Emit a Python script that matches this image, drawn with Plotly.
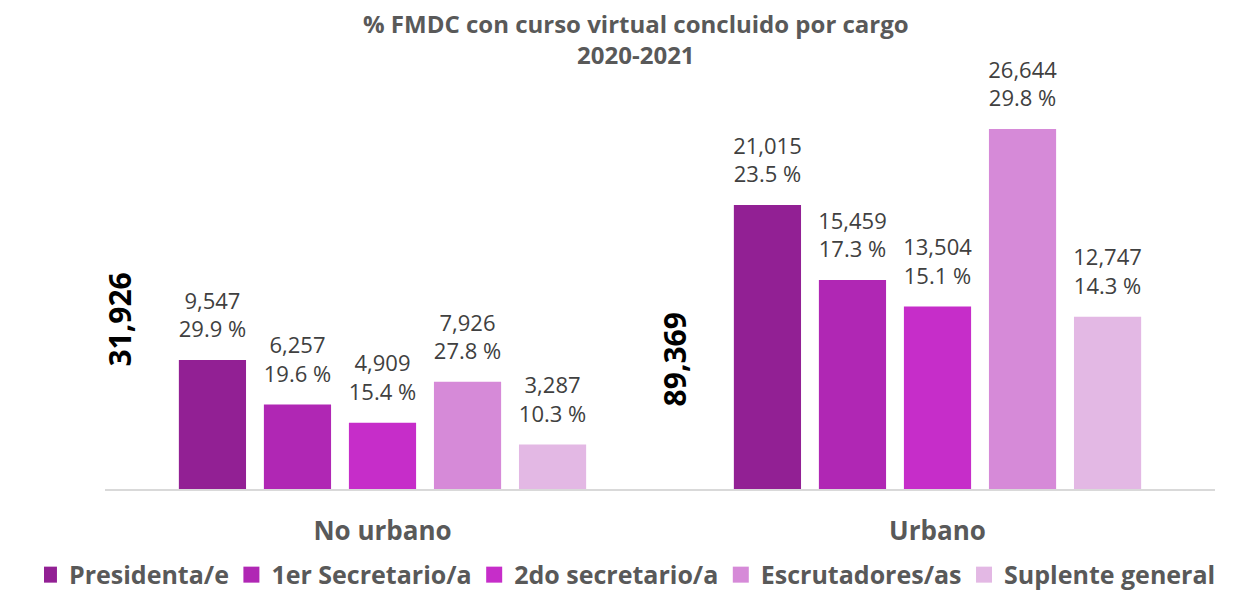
import plotly.graph_objects as go

categories = ["No urbano", "Urbano"]
series = ["Presidenta/e", "1er Secretario/a", "2do secretario/a", "Escrutadores/as", "Suplente general"]
counts = {
    "Presidenta/e": [9547, 21015],
    "1er Secretario/a": [6257, 15459],
    "2do secretario/a": [4909, 13504],
    "Escrutadores/as": [7926, 26644],
    "Suplente general": [3287, 12747],
}
pcts = {
    "Presidenta/e": [29.9, 23.5],
    "1er Secretario/a": [19.6, 17.3],
    "2do secretario/a": [15.4, 15.1],
    "Escrutadores/as": [27.8, 29.8],
    "Suplente general": [10.3, 14.3],
}
totals = [31926, 89369]
total_label_y = [12500, 9550]
colors = ["#922094", "#B027B4", "#C62DC9", "#D68AD8", "#E3B8E4"]

FONT = "Open Sans"

fig = go.Figure()
for name, col in zip(series, colors):
    fig.add_trace(go.Bar(
        x=categories, y=counts[name], name=name, showlegend=False,
        marker=dict(color=col, line=dict(width=0)),
        hoverinfo="skip",
    ))
# value labels, grouped like the bars
for name in series:
    fig.add_trace(go.Scatter(
        x=categories, y=counts[name], mode="markers+text", showlegend=False,
        marker=dict(size=26, color="rgba(0,0,0,0)"),
        customdata=pcts[name],
        texttemplate="%{y:,}<br>%{customdata:.1f} %",
        textposition="top center", cliponaxis=False,
        textfont=dict(family=FONT, size=22, color="#404040"),
        hoverinfo="skip",
    ))
# legend entries (on a hidden auxiliary axis so they do not affect grouping)
for i, (name, col) in enumerate(zip(series, colors)):
    pad = "\u2002" if i < len(series) - 1 else ""
    fig.add_trace(go.Scatter(
        x=[None], y=[None], mode="markers", name=f"<b>{name}{pad}</b>",
        marker=dict(symbol="square", size=18, color=col),
        xaxis="x2", yaxis="y2", hoverinfo="skip",
    ))

for cat, tot, yy in zip(categories, totals, total_label_y):
    fig.add_annotation(x=cat, y=yy, xref="x", yref="y", xshift=-263,
                       text=f"<b>{tot:,}</b>", textangle=-90, showarrow=False,
                       font=dict(family=FONT, size=30, color="#000000"))

fig.add_annotation(x=0.478, y=1.155, xref="paper", yref="paper",
                   xanchor="center", yanchor="top", showarrow=False,
                   text="<b>% FMDC con curso virtual concluido por cargo<br>2020-2021</b>",
                   font=dict(family=FONT, size=24, color="#595959"))

fig.update_layout(
    width=1248, height=584,
    paper_bgcolor="white", plot_bgcolor="white",
    margin=dict(l=97, r=41, t=62, b=103, autoexpand=False),
    barmode="group", bargap=0.234, bargroupgap=0.21,
    scattermode="group", scattergap=0.234,
    legend=dict(orientation="h", x=-0.055, xanchor="left", xref="paper",
                y=-0.205, yanchor="middle", yref="paper",
                font=dict(family=FONT, size=25, color="#595959"),
                itemwidth=30, indentation=-15, traceorder="normal", tracegroupgap=0),
    font=dict(family=FONT),
    showlegend=True,
    xaxis=dict(showline=True, linecolor="#D9D9D9", linewidth=1.5, ticks="",
               automargin=False, range=[-0.5, 1.5],
               tickfont=dict(family=FONT, size=26, color="#595959"),
               tickprefix="<b>", ticksuffix="</b>", ticklabelstandoff=18),
    yaxis=dict(visible=False, range=[0, 31000], showgrid=False, automargin=False),
    xaxis2=dict(visible=False, overlaying="x", range=[0, 1]),
    yaxis2=dict(visible=False, overlaying="y", range=[0, 1]),
)

fig.write_html("out.html")
